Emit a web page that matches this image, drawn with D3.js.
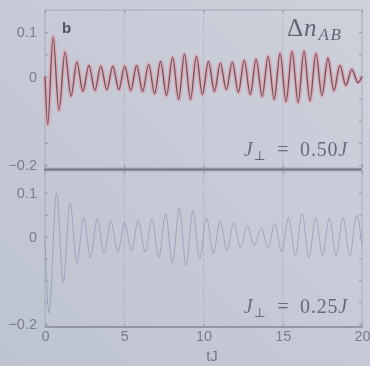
<!DOCTYPE html>
<html>
<head>
<meta charset="utf-8">
<script src="https://cdn.jsdelivr.net/npm/d3@7"></script>
<style>
  html, body { margin: 0; padding: 0; overflow: hidden; background: #c7ccd7; }
  svg { display: block; }
</style>
</head>
<body>
<svg id="chart" width="370" height="366"></svg>
<script>
// Δn_AB(t) for J⊥ = 0.50J (upper panel): turning points of the oscillation
const tTop = [0, 0.17, 0.51, 0.88, 1.26, 1.64, 2.01, 2.39, 2.77, 3.15, 3.52, 3.90, 4.28, 4.66,
  5.03, 5.41, 5.78, 6.16, 6.54, 6.92, 7.29, 7.67, 8.05, 8.43, 8.80, 9.18, 9.55, 9.93,
  10.31, 10.69, 11.06, 11.44, 11.82, 12.20, 12.57, 12.95, 13.32, 13.70, 14.08, 14.46,
  14.83, 15.21, 15.59, 15.97, 16.34, 16.72, 17.09, 17.47, 17.85, 18.23, 18.60, 18.98,
  19.36, 19.74, 20];
const dnTop = [0, -0.109, 0.089, -0.077, 0.055, -0.045, 0.032, -0.034, 0.025, -0.032, 0.023, -0.030,
  0.023, -0.030, 0.023, -0.032, 0.025, -0.034, 0.027, -0.039, 0.034, -0.043, 0.043, -0.052,
  0.050, -0.052, 0.045, -0.041, 0.034, -0.034, 0.030, -0.030, 0.032, -0.036, 0.036, -0.041,
  0.039, -0.045, 0.045, -0.052, 0.052, -0.057, 0.056, -0.059, 0.057, -0.055, 0.052, -0.043,
  0.041, -0.032, 0.025, -0.020, 0.016, -0.014, 0.0];

// Δn_AB(t) for J⊥ = 0.25J (lower panel)
const tBottom = [0, 0.25, 0.73, 1.15, 1.58, 2.01, 2.44, 2.87, 3.30, 3.73, 4.16, 4.59, 5.02, 5.45,
  5.89, 6.32, 6.75, 7.18, 7.61, 8.04, 8.47, 8.90, 9.33, 9.76, 10.19, 10.62, 11.05, 11.48,
  11.91, 12.34, 12.77, 13.20, 13.64, 14.07, 14.50, 14.93, 15.36, 15.79, 16.22, 16.65,
  17.08, 17.51, 17.94, 18.37, 18.80, 19.23, 19.66, 20];
const dnBottom = [0, -0.175, 0.100, -0.105, 0.077, -0.061, 0.043, -0.048, 0.041, -0.039, 0.036, -0.036,
  0.032, -0.032, 0.036, -0.036, 0.041, -0.048, 0.052, -0.061, 0.064, -0.066, 0.059, -0.050,
  0.043, -0.039, 0.036, -0.032, 0.032, -0.025, 0.025, -0.020, 0.020, -0.025, 0.030, -0.036,
  0.043, -0.043, 0.052, -0.048, 0.043, -0.043, 0.043, -0.043, 0.043, -0.043, 0.048, -0.020];

const xTicks = [0, 5, 10, 15, 20];
const xGrid = [5, 10, 15];
const yMinorTicks = [-0.2, -0.15, -0.1, -0.05, 0, 0.05, 0.1];
const yTickLabels = [0.1, 0, -0.2];
const couplings = ["0.50", "0.25"];

const svg = d3.select("#chart");

const defs = svg.append("defs");
const bg = defs.append("linearGradient").attr("id", "bg")
  .attr("x1", "0").attr("y1", "1").attr("x2", "1").attr("y2", "0");
bg.append("stop").attr("offset", "0%").attr("stop-color", "#bec3d0");
bg.append("stop").attr("offset", "100%").attr("stop-color", "#cdd1dc");
defs.append("filter").attr("id", "soft")
  .attr("x", "-5%").attr("y", "-5%").attr("width", "110%").attr("height", "110%")
  .append("feGaussianBlur").attr("stdDeviation", 0.7);

svg.append("rect").attr("width", 370).attr("height", 366).attr("fill", "url(#bg)");

const root = svg.append("g").attr("filter", "url(#soft)");

const x = d3.scaleLinear().domain([0, 20]).range([45, 362]);

const panels = [
  { top: 10, bottom: 168, t: tTop, v: dnTop, J: couplings[0], labelY: 156 },
  { top: 171, bottom: 327, t: tBottom, v: dnBottom, J: couplings[1], labelY: 313 }
];

const fmt = d => (yTickLabels.some(l => Math.abs(l - d) < 1e-9) ? (d === 0 ? "0" : d3.format(".1f")(d)) : "");

panels.forEach((p, i) => {
  const y = d3.scaleLinear().domain([-0.207, 0.15]).range([p.bottom, p.top]);
  const g = root.append("g");

  // dotted vertical grid
  g.selectAll(".grid").data(xGrid).join("line")
    .attr("x1", d => x(d)).attr("x2", d => x(d))
    .attr("y1", p.top).attr("y2", p.bottom)
    .attr("stroke", "#979cab").attr("stroke-width", 0.8)
    .attr("stroke-dasharray", "1.2,1.8");

  // frame
  g.append("rect")
    .attr("x", x(0)).attr("y", p.top)
    .attr("width", x(20) - x(0)).attr("height", p.bottom - p.top)
    .attr("fill", "none").attr("stroke", "#a4a9b5").attr("stroke-width", 0.9);

  // left axis with inward ticks
  const left = g.append("g").attr("transform", `translate(${x(0)},0)`)
    .call(d3.axisLeft(y).tickValues(yMinorTicks).tickSize(-3).tickPadding(8).tickFormat(fmt));
  // right axis ticks
  const right = g.append("g").attr("transform", `translate(${x(20)},0)`)
    .call(d3.axisRight(y).tickValues(yMinorTicks).tickSize(-3).tickFormat(""));
  // x ticks on bottom edge
  const bottomAxis = g.append("g").attr("transform", `translate(0,${p.bottom})`)
    .call(d3.axisBottom(x).tickValues(xTicks).tickSize(-3).tickPadding(4)
      .tickFormat(i === 1 ? d3.format("d") : ""));
  const topAxis = g.append("g").attr("transform", `translate(0,${p.top})`)
    .call(d3.axisTop(x).tickValues(xTicks).tickSize(-3).tickFormat(""));

  [left, right, bottomAxis, topAxis].forEach(a => {
    a.select(".domain").remove();
    a.selectAll(".tick line").attr("stroke", "#8e93a0").attr("stroke-width", 0.9);
    a.selectAll(".tick text")
      .attr("fill", "#7a7e8c")
      .attr("font-family", "'Liberation Sans', Arial, sans-serif")
      .attr("font-size", 14.5);
  });

  // the curve
  const line = d3.line()
    .x((d, k) => x(p.t[k]))
    .y(d => y(d))
    .curve(d3.curveMonotoneX);

  if (i === 0) {
    g.append("path").attr("d", line(p.v))
      .attr("fill", "none").attr("stroke", "#e0a2ad").attr("stroke-width", 4.4)
      .attr("stroke-opacity", 0.75).attr("stroke-linejoin", "round");
    g.append("path").attr("d", line(p.v))
      .attr("fill", "none").attr("stroke", "#6b5560").attr("stroke-width", 1.3)
      .attr("stroke-linejoin", "round");
  } else {
    g.append("path").attr("d", line(p.v))
      .attr("fill", "none").attr("stroke", "#8f92b2").attr("stroke-width", 0.9)
      .attr("stroke-opacity", 0.75).attr("stroke-linejoin", "round");
  }

  // coupling label
  const lab = g.append("text")
    .attr("x", 348).attr("y", p.labelY)
    .attr("text-anchor", "end")
    .attr("font-family", "'Liberation Serif', 'DejaVu Serif', serif")
    .attr("font-size", 20)
    .attr("letter-spacing", 0.8)
    .attr("fill", "#676b79");
  lab.append("tspan").attr("font-style", "italic").text("J");
  lab.append("tspan").attr("font-size", 13).attr("dy", 4).text("⊥");
  lab.append("tspan").attr("dy", -4).text("\u2002=\u20020.");
  lab.append("tspan").text(p.J.slice(2));
  lab.append("tspan").attr("font-style", "italic").text("J");
});

// separator between the two panels and bottom axis line
root.append("line")
  .attr("x1", x(0) - 1).attr("x2", x(20))
  .attr("y1", 169.5).attr("y2", 169.5)
  .attr("stroke", "#6e7280").attr("stroke-width", 2.2);
root.append("line")
  .attr("x1", x(0)).attr("x2", x(20))
  .attr("y1", 327).attr("y2", 327)
  .attr("stroke", "#868b98").attr("stroke-width", 1.6);

// panel letter
root.append("text")
  .attr("x", 62).attr("y", 33)
  .attr("font-family", "'Liberation Sans', Arial, sans-serif")
  .attr("font-weight", "bold").attr("font-size", 15)
  .attr("fill", "#4f5361").text("b");

// quantity label
const q = root.append("text")
  .attr("x", 287).attr("y", 36)
  .attr("font-family", "'Liberation Serif', 'DejaVu Serif', serif")
  .attr("font-size", 25).attr("fill", "#626673");
q.append("tspan").text("Δ");
q.append("tspan").attr("font-style", "italic").attr("dx", 1).text("n");
q.append("tspan").attr("font-style", "italic").attr("font-size", 17).attr("dy", 4).attr("dx", 2)
  .attr("letter-spacing", 1.5).text("AB");

// x axis title
root.append("text")
  .attr("x", 212).attr("y", 361)
  .attr("text-anchor", "middle")
  .attr("font-family", "'Liberation Sans', Arial, sans-serif")
  .attr("font-size", 15).attr("fill", "#737785")
  .text("tJ");
</script>
</body>
</html>
